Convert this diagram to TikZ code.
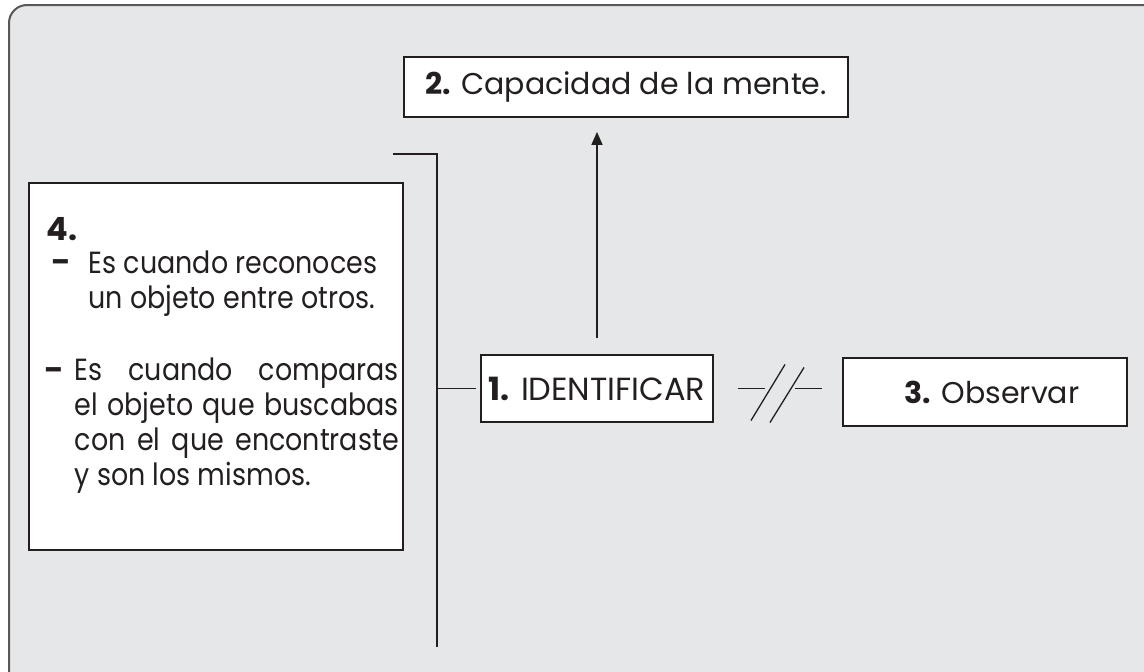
\documentclass[tikz,border=0pt]{standalone}
\usepackage{fontspec}
\setmainfont{Poppins}
\newfontfamily\listfont[FakeStretch=0.88]{Poppins}
\usetikzlibrary{positioning, arrows.meta, calc}
\definecolor{panelgray}{HTML}{E6E7E9}
\definecolor{framegray}{HTML}{58585A}
\definecolor{inkblack}{HTML}{231F20}
\tikzset{
  mapa/.style={
	x=1pt, y=-1pt, % one unit is one pixel of the scan
	line width=1.5pt, % thin connectors
	draw=inkblack,
	every node/.style={font=\fontsize{30}{34.5}\selectfont, text=inkblack},
  },
  concept/.style={draw=inkblack, fill=white, line width=1.8pt, inner sep=0pt}, % white boxes
  listtext/.style={anchor=base west, inner sep=0pt, font=\listfont\fontsize{30.6}{35}\selectfont},
}
\begin{document}
\begin{tikzpicture}[mapa]
\useasboundingbox (0,0) rectangle (1144,672);
\draw[framegray, fill=panelgray, line width=2pt, rounded corners=18pt] (9,5) rectangle (1170,700);

% boxes
\node[concept, minimum width=444pt, minimum height=60pt] (mente) at (626,87) {\textbf{2.} Capacidad de la mente.};
\node[concept, minimum width=232pt, minimum height=67pt, font=\fontsize{32}{36}\selectfont] (identificar) at (597,388.5) {\textbf{1.} IDENTIFICAR};
\node[concept, minimum width=284pt, minimum height=68pt] (observar) at (985,392) {\hspace{14pt}\textbf{3.} Observar};
\node[concept, minimum width=374pt, minimum height=367pt] (definicion) at (216,366.5) {};

% text of box 4
\node[anchor=base west, inner sep=0pt, font=\fontsize{32}{36}\selectfont\bfseries] (numero) at (46,240) {4.};
\node[listtext] (guion1) at (51,272) {\textbf{–}};
\node[listtext, align=left] (rasgo1) at (88,308) {Es cuando reconoces\\un objeto entre otros.};
\node[listtext] (guion2) at (44,380) {\textbf{–}};
\node[listtext, text width=324pt, align=justify] (rasgo2) at (74,380) {\hyphenpenalty=10000 Es cuando comparas\linebreak el objeto que buscabas\linebreak con el que encontraste\linebreak y son los mismos.};

% connectors
\draw[-{Triangle[length=13pt,width=11pt]}, shorten <=16pt, shorten >=14pt] (identificar.north) -- (identificar.north |- mente.south);
\coordinate (llave) at (437,388.5);
\coordinate (llavetop) at (393,154);
\coordinate (llavefin) at (437,647);
\draw[shorten <=4pt] (identificar.west) -- (llave);
\draw (llavetop) -| (llavefin);
\draw[dash pattern=on 0pt off 24pt on 27pt off 30pt on 27pt off 200pt] (identificar.east) -- (identificar.east -| observar.west);
\coordinate (corte) at ($(identificar.east)!0.5!(identificar.east -| observar.west)$);
\draw[line width=1.3pt] (corte) ++(-27,32) -- ++(34,-56);
\draw[line width=1.3pt] (corte) ++(-8,34) -- ++(34,-55);
\end{tikzpicture}
\end{document}
